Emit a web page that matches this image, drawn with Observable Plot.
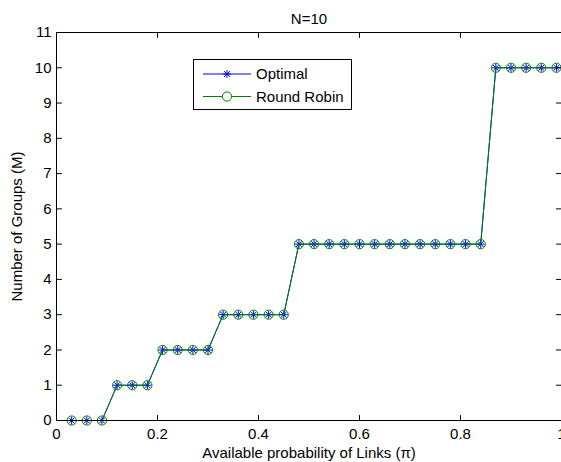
<!DOCTYPE html>
<html>
<head>
<meta charset="utf-8">
<script src="https://cdn.jsdelivr.net/npm/d3@7"></script>
<script src="https://cdn.jsdelivr.net/npm/@observablehq/plot@0.6"></script>
<style>
  html, body { margin: 0; padding: 0; background: #fff; overflow: hidden; }
  #wrap { position: relative; width: 561px; height: 462px; overflow: hidden; }
  #legend { position: absolute; left: 193px; top: 59px; width: 157px; height: 49px;
            border: 1px solid #000; background: #fff; box-sizing: content-box; }
</style>
</head>
<body>
<div id="wrap"></div>
<script>
// ---- data ----
const title = "N=10";
const xLabel = "Available probability of Links (\u03c0)";
const yLabel = "Number of Groups (M)";
const linkProb = [0.03,0.06,0.09,0.12,0.15,0.18,0.21,0.24,0.27,0.30,0.33,0.36,0.39,0.42,0.45,0.48,0.51,0.54,0.57,0.60,0.63,0.66,0.69,0.72,0.75,0.78,0.81,0.84,0.87,0.90,0.93,0.96,0.99];
const optimal    = [0,0,0,1,1,1,2,2,2,2,3,3,3,3,3,5,5,5,5,5,5,5,5,5,5,5,5,5,10,10,10,10,10];
const roundRobin = [0,0,0,1,1,1,2,2,2,2,3,3,3,3,3,5,5,5,5,5,5,5,5,5,5,5,5,5,10,10,10,10,10];
const seriesNames = ["Optimal", "Round Robin"];
const xTicks = [0, 0.2, 0.4, 0.6, 0.8, 1];
const xTickLabels = ["0", "0.2", "0.4", "0.6", "0.8", "1"];
const yTicks = [0,1,2,3,4,5,6,7,8,9,10,11];

const BLUE = "#0000ff", GREEN = "#008000";
const FONT = "'Liberation Sans', Arial, Helvetica, sans-serif";
const optData = linkProb.map((x, i) => ({x, y: optimal[i]}));
const rrData = linkProb.map((x, i) => ({x, y: roundRobin[i]}));

const asterisk = {
  draw(ctx, size) {
    const r = Math.sqrt(size / Math.PI), d = r * 0.72;
    ctx.moveTo(-r, 0); ctx.lineTo(r, 0);
    ctx.moveTo(0, -r); ctx.lineTo(0, r);
    ctx.moveTo(-d, -d); ctx.lineTo(d, d);
    ctx.moveTo(-d, d); ctx.lineTo(d, -d);
  }
};
const tickShape = {draw(ctx, l) { ctx.moveTo(0, 0); ctx.lineTo(0, -l); }};
const tk = (data, opts) => Plot.vector(data, {length: 5, anchor: "start", shape: tickShape, stroke: "#000", strokeWidth: 1, ...opts});

const chart = Plot.plot({
  width: 561,
  height: 462,
  marginTop: 32,
  marginBottom: 42,
  marginLeft: 56,
  marginRight: 0,
  style: {fontFamily: FONT, fontSize: "15px", color: "#000", background: "#fff"},
  x: {domain: [0, 1]},
  y: {domain: [0, 11]},
  marks: [
    Plot.line(optData, {x: "x", y: "y", stroke: BLUE, strokeWidth: 1}),
    Plot.dot(optData, {x: "x", y: "y", symbol: asterisk, r: 4, stroke: BLUE, strokeWidth: 1}),
    Plot.line(rrData, {x: "x", y: "y", stroke: GREEN, strokeWidth: 1}),
    Plot.dot(rrData, {x: "x", y: "y", symbol: "circle", r: 4.6, stroke: GREEN, fill: "none", strokeWidth: 1}),
    Plot.frame({stroke: "#000", strokeWidth: 1}),
    tk(xTicks, {x: d => d, y: 0, rotate: 0}),
    tk(xTicks, {x: d => d, y: 11, rotate: 180}),
    tk(yTicks, {x: 0, y: d => d, rotate: 90}),
    tk(yTicks, {x: 1, y: d => d, rotate: -90}),
    Plot.axisX({ticks: xTicks, tickFormat: d => xTickLabels[xTicks.indexOf(d)], tickSize: 0, tickPadding: 8,
                label: xLabel, labelAnchor: "center", labelArrow: "none", labelOffset: 37, fontSize: 15}),
    Plot.axisY({ticks: yTicks, tickSize: 0, tickPadding: 5,
                label: yLabel, labelAnchor: "center", labelArrow: "none", labelOffset: 45, fontSize: 15}),
    Plot.text([title], {frameAnchor: "top", dy: -19, text: d => d, fontSize: 15, fill: "#000"})
  ]
});
const wrap = document.getElementById("wrap");
wrap.appendChild(chart);

// legend
const leg = document.createElement("div");
leg.id = "legend";
const svg = d3.create("svg").attr("width", 157).attr("height", 49)
  .style("font-family", FONT).style("font-size", "15px").style("display", "block");
const rows = [{name: seriesNames[0], color: BLUE, sym: "star"}, {name: seriesNames[1], color: GREEN, sym: "circle"}];
rows.forEach((r, i) => {
  const cy = 14 + i * 22.5;
  svg.append("line").attr("x1", 9).attr("x2", 57).attr("y1", cy).attr("y2", cy).attr("stroke", r.color);
  const cx = 33;
  if (r.sym === "star") {
    const s = 4, d = s * 0.72;
    svg.append("path").attr("d", `M${cx - s},${cy}L${cx + s},${cy}M${cx},${cy - s}L${cx},${cy + s}M${cx - d},${cy - d}L${cx + d},${cy + d}M${cx - d},${cy + d}L${cx + d},${cy - d}`)
      .attr("stroke", r.color).attr("fill", "none");
  } else {
    svg.append("circle").attr("cx", cx).attr("cy", cy).attr("r", 4.6).attr("stroke", r.color).attr("fill", "#fff");
  }
  svg.append("text").attr("x", 62).attr("y", cy).attr("dy", "0.36em").text(r.name);
});
leg.appendChild(svg.node());
wrap.appendChild(leg);
</script>
</body>
</html>
